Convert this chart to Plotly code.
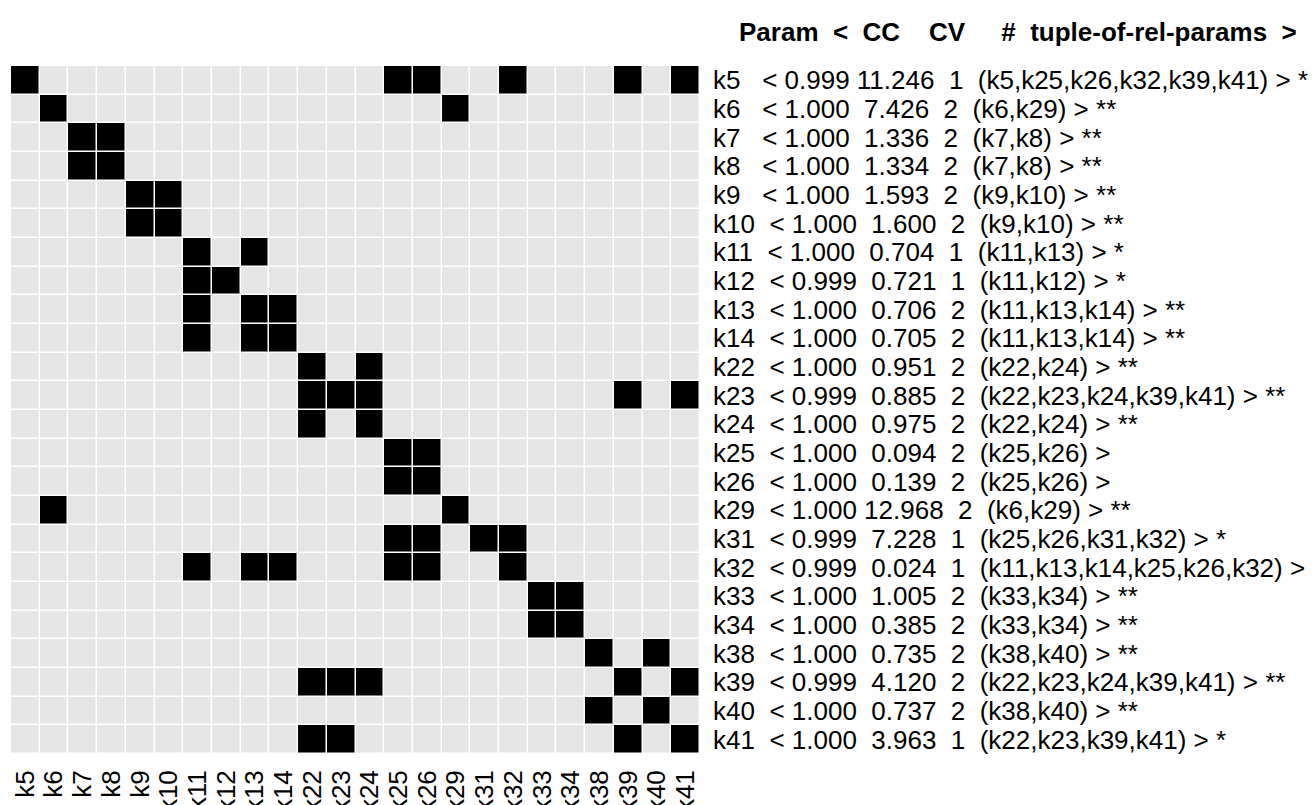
import plotly.graph_objects as go

params = ["k5", "k6", "k7", "k8", "k9", "k10", "k11", "k12", "k13", "k14", "k22", "k23",
          "k24", "k25", "k26", "k29", "k31", "k32", "k33", "k34", "k38", "k39", "k40", "k41"]
cc = ["0.999", "1.000", "1.000", "1.000", "1.000", "1.000", "1.000", "0.999", "1.000", "1.000",
      "1.000", "0.999", "1.000", "1.000", "1.000", "1.000", "0.999", "0.999", "1.000", "1.000",
      "1.000", "0.999", "1.000", "1.000"]
cv = [11.246, 7.426, 1.336, 1.334, 1.593, 1.600, 0.704, 0.721, 0.706, 0.705, 0.951, 0.885,
      0.975, 0.094, 0.139, 12.968, 7.228, 0.024, 1.005, 0.385, 0.735, 4.120, 0.737, 3.963]
count = [1, 2, 2, 2, 2, 2, 1, 1, 2, 2, 2, 2, 2, 2, 2, 2, 1, 1, 2, 2, 2, 2, 2, 1]
tuples = [
    ["k5", "k25", "k26", "k32", "k39", "k41"],
    ["k6", "k29"],
    ["k7", "k8"],
    ["k7", "k8"],
    ["k9", "k10"],
    ["k9", "k10"],
    ["k11", "k13"],
    ["k11", "k12"],
    ["k11", "k13", "k14"],
    ["k11", "k13", "k14"],
    ["k22", "k24"],
    ["k22", "k23", "k24", "k39", "k41"],
    ["k22", "k24"],
    ["k25", "k26"],
    ["k25", "k26"],
    ["k6", "k29"],
    ["k25", "k26", "k31", "k32"],
    ["k11", "k13", "k14", "k25", "k26", "k32"],
    ["k33", "k34"],
    ["k33", "k34"],
    ["k38", "k40"],
    ["k22", "k23", "k24", "k39", "k41"],
    ["k38", "k40"],
    ["k22", "k23", "k39", "k41"],
]
stars = ["*", "**", "**", "**", "**", "**", "*", "*", "**", "**", "**", "**",
         "**", "", "", "**", "*", "", "**", "**", "**", "**", "**", "*"]
header_text = "Param  <  CC    CV     #  tuple-of-rel-params  >"

n = len(params)
z = [[1 if params[j] in tuples[i] else 0 for j in range(n)] for i in range(n)]

NB = "\u00a0"
L, R, T, B = 11, 612, 66, 51
W = 1312 - L - R
H = 805 - T - B


def px_to_paper_x(px):
    return (px - L) / W


def px_to_paper_y(py):
    return (805 - B - py) / H


fig = go.Figure()
fig.add_trace(go.Heatmap(
    z=z, x=list(range(n)), y=list(range(n)),
    colorscale=[[0, "#e5e5e5"], [1, "#000000"]], zmin=0, zmax=1,
    showscale=False, xgap=1.5, ygap=1.5, hoverinfo="skip",
))

FONT = "Liberation Sans, Arial, Helvetica, sans-serif"

for i in range(n):
    name = params[i].ljust(5)
    cvs = f"{cv[i]:6.3f}"
    txt = f"{name}< {cc[i]} {cvs}  {count[i]}  ({','.join(tuples[i])}) > {stars[i]}"
    txt = txt.replace(" ", NB)
    fig.add_annotation(
        x=px_to_paper_x(711), y=i, xref="paper", yref="y", text=txt, showarrow=False,
        xanchor="left", yanchor="middle", align="left",
        font=dict(family=FONT, size=26, color="black"),
    )

fig.add_annotation(
    x=px_to_paper_x(737), xref="paper", y=px_to_paper_y(32), yref="paper",
    text="<b>" + header_text.replace(" ", NB) + "</b>",
    showarrow=False, xanchor="left", yanchor="middle",
    font=dict(family=FONT, size=26, color="black"),
)

fig.update_layout(
    width=1312, height=805,
    margin=dict(l=L, r=R, t=T, b=B, pad=0, autoexpand=False),
    paper_bgcolor="white", plot_bgcolor="white",
    showlegend=False,
    xaxis=dict(
        tickmode="array", tickvals=list(range(n)), ticktext=params, tickangle=-90,
        range=[-0.5, n - 0.5], showgrid=False, zeroline=False, showline=False,
        ticks="", ticklabelstandoff=10, automargin=False,
        tickfont=dict(family=FONT, size=26, color="black"),
    ),
    yaxis=dict(
        range=[n - 0.5, -0.5], showgrid=False, zeroline=False, showline=False,
        showticklabels=False, ticks="", automargin=False,
    ),
)

fig.write_html("out.html")
